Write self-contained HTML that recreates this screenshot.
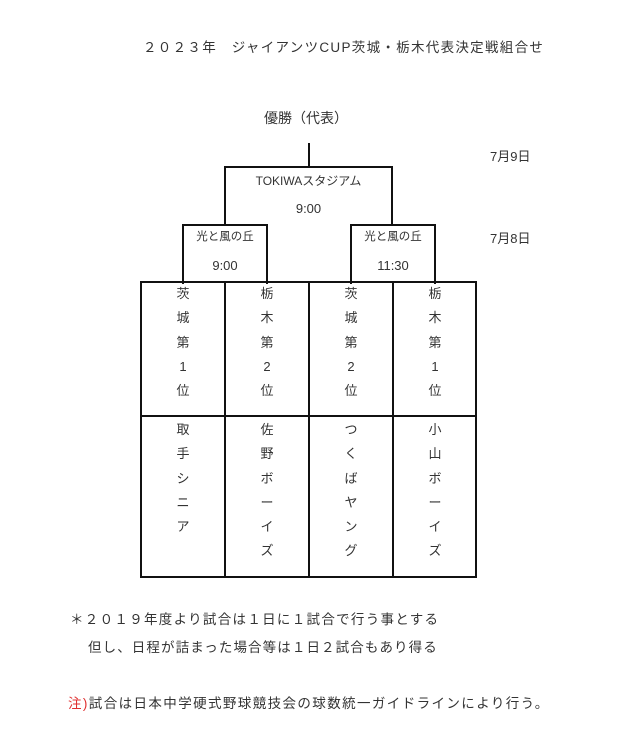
<!DOCTYPE html>
<html><head><meta charset="utf-8"><style>
body{margin:0;width:640px;height:747px;background:#fff;position:relative;font-family:"Liberation Sans","Noto Sans CJK JP",sans-serif;color:#333;font-size:13px;overflow:hidden}
.t{position:absolute;white-space:nowrap;line-height:1}
.b{position:absolute;border:2px solid #111;box-sizing:border-box}
.col{position:absolute;width:84px;text-align:center;line-height:24.3px;font-size:13px}
</style></head><body>
<div class="t" style="left:143px;top:41px;font-size:13.5px;letter-spacing:1.3px">２０２３年　ジャイアンツCUP茨城・栃木代表決定戦組合せ</div>
<div class="t" style="left:264px;top:111px;font-size:14px">優勝（代表）</div>
<div class="t" style="left:490px;top:150px">7月9日</div>
<div class="t" style="left:490px;top:232px">7月8日</div>
<div style="position:absolute;left:308px;top:143px;width:2px;height:25px;background:#111"></div>
<div class="b" style="left:224px;top:166px;width:169px;height:60px;border-bottom:none"></div>
<div class="t" style="left:224px;top:175px;width:169px;text-align:center;font-size:12px">TOKIWAスタジアム</div>
<div class="t" style="left:224px;top:202px;width:169px;text-align:center">9:00</div>
<div class="b" style="left:182px;top:224px;width:86px;height:60px;border-bottom:none"></div>
<div class="b" style="left:350px;top:224px;width:86px;height:60px;border-bottom:none"></div>
<div class="t" style="left:182px;top:232px;width:86px;text-align:center;font-size:11.5px">光と風の丘</div>
<div class="t" style="left:182px;top:259px;width:86px;text-align:center">9:00</div>
<div class="t" style="left:350px;top:232px;width:86px;text-align:center;font-size:11.5px">光と風の丘</div>
<div class="t" style="left:350px;top:259px;width:86px;text-align:center">11:30</div>
<div class="b" style="left:140px;top:281px;width:337px;height:297px"></div>
<div style="position:absolute;left:140px;top:415px;width:337px;height:2px;background:#111"></div>
<div style="position:absolute;left:224px;top:281px;width:2px;height:297px;background:#111"></div>
<div style="position:absolute;left:308px;top:281px;width:2px;height:297px;background:#111"></div>
<div style="position:absolute;left:392px;top:281px;width:2px;height:297px;background:#111"></div>
<div class="col" style="left:141px;top:282px">茨<br>城<br>第<br>1<br>位</div>
<div class="col" style="left:225px;top:282px">栃<br>木<br>第<br>2<br>位</div>
<div class="col" style="left:309px;top:282px">茨<br>城<br>第<br>2<br>位</div>
<div class="col" style="left:393px;top:282px">栃<br>木<br>第<br>1<br>位</div>
<div class="col" style="left:141px;top:418px">取<br>手<br>シ<br>ニ<br>ア</div>
<div class="col" style="left:225px;top:418px">佐<br>野<br>ボ<br>ー<br>イ<br>ズ</div>
<div class="col" style="left:309px;top:418px">つ<br>く<br>ば<br>ヤ<br>ン<br>グ</div>
<div class="col" style="left:393px;top:418px">小<br>山<br>ボ<br>ー<br>イ<br>ズ</div>
<div class="t" style="left:70px;top:613px;font-size:13.5px;letter-spacing:1.3px">＊２０１９年度より試合は１日に１試合で行う事とする</div>
<div class="t" style="left:88px;top:641px;font-size:13.5px;letter-spacing:1.1px">但し、日程が詰まった場合等は１日２試合もあり得る</div>
<div class="t" style="left:68px;top:697px;font-size:13.5px;letter-spacing:1.4px"><span style="color:#e03030">注)</span>試合は日本中学硬式野球競技会の球数統一ガイドラインにより行う。</div>
</body></html>
